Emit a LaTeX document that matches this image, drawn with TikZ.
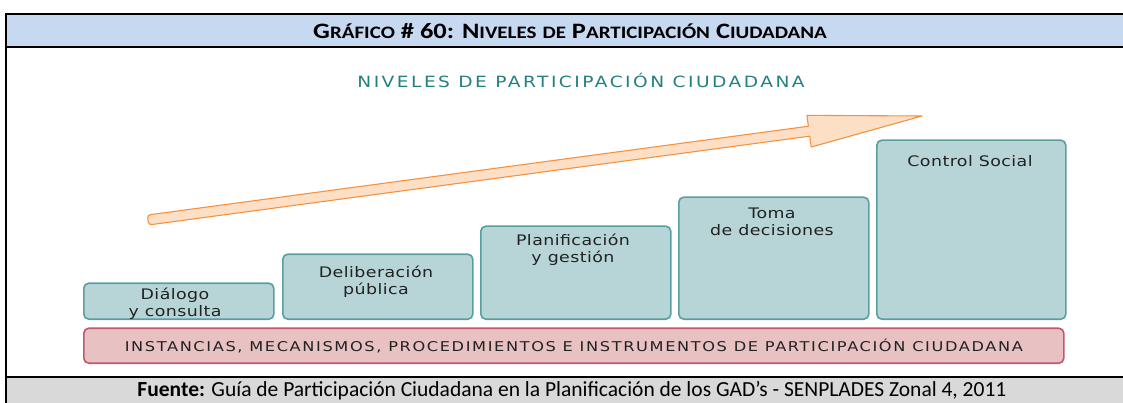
\documentclass[tikz,border=0pt]{standalone}
\usepackage{fontspec}
\setmainfont{Carlito}
\newfontfamily\hdrfont[FakeStretch=1.2]{Carlito}
\newfontfamily\diagfont[FakeStretch=1.2]{DejaVu Sans}
\usetikzlibrary{calc,positioning}
\definecolor{hdrfill}{HTML}{C6D9F1}
\definecolor{ftrfill}{HTML}{D9D9D9}
\definecolor{levelfill}{HTML}{B7D5D7}
\definecolor{levelline}{HTML}{5A9FA0}
\definecolor{leveltext}{HTML}{222222}
\definecolor{basefill}{HTML}{E8C2C2}
\definecolor{baseline}{HTML}{C4566E}
\definecolor{arrowfill}{HTML}{FDDFC6}
\definecolor{arrowline}{HTML}{F59240}
\definecolor{titleteal}{HTML}{23807F}
\newcommand\hsc[2]{{\fontsize{22}{22}\selectfont #1}{\fontsize{17.5}{17.5}\selectfont #2}}
\tikzset{
  frame/.style={draw=black, line width=1.6pt},
  level/.style={draw=levelline, line width=1.6pt, fill=levelfill, rectangle, rounded corners=5pt,
    inner sep=0pt, minimum width=190pt, anchor=south west},
  leveltxt/.style={font=\diagfont\fontsize{14.5}{17}\selectfont\addfontfeature{LetterSpace=3},
    text=leveltext, align=center, inner sep=0pt},
  basebar/.style={draw=baseline, line width=1.6pt, fill=basefill, rectangle, rounded corners=5pt,
    inner sep=0pt, minimum width=980pt, minimum height=35pt, anchor=south west},
  basetxt/.style={font=\diagfont\fontsize{13.5}{15}\selectfont\addfontfeature{LetterSpace=12},
    text=leveltext, inner sep=0pt},
  growth/.style={draw=arrowline, line width=1.1pt, fill=arrowfill, line join=round},
  small/.style={inner sep=0pt}
}

\begin{document}
\begin{tikzpicture}[x=1pt, y=-1pt]
  \useasboundingbox (0,0) rectangle (1123,403);
  % frame, header and footer
  \fill[hdrfill] (6,14) rectangle (1123,47);
  \fill[ftrfill] (6,377) rectangle (1123,403);
  \draw[frame] (1123,14) -- (6,14) -- (6,403);
  \draw[frame] (6,47) -- (1123,47);
  \draw[frame] (6,377) -- (1123,377);
  \node[small, font=\hdrfont\bfseries\fontsize{22}{22}\selectfont] (hdr) at (570,31)
    {\hsc{G}{RÁFICO} \# 60: \hsc{N}{IVELES} \hsc{}{DE} \hsc{P}{ARTICIPACIÓN} \hsc{C}{IUDADANA}};
  \node[small, font=\fontsize{21.5}{21.5}\selectfont] (ftr) at (572,391)
    {\textbf{Fuente:} Guía de Participación Ciudadana en la Planificación de los GAD’s - SENPLADES Zonal 4, 2011};

  \node[small, text=titleteal, font=\diagfont\fontsize{15.5}{17}\selectfont\addfontfeature{LetterSpace=16}] (title) at (581,80)
    {NIVELES DE PARTICIPACIÓN CIUDADANA};

  % growth arrow
  \coordinate (tail) at (148,220);
  \coordinate (tip) at (922,116);
  \coordinate (neck) at ($(tail)!667pt!(tip)$);
  \draw[growth] ($(neck)!5pt!90:(tip)$) [rounded corners=3pt] -- ($(tail)!5pt!90:(tip)$)
    -- ($(tail)!5pt!-90:(tip)$) [sharp corners] -- ($(neck)!5pt!-90:(tip)$)
    -- ($(neck)!16pt!-90:(tip)$) -- (tip) -- ($(neck)!16pt!90:(tip)$) -- cycle;

  % levels
  \node[level, minimum height=36pt] (b1) at (83,320) {};
  \node[level, minimum height=65pt] (b2) at (282,320) {};
  \node[level, minimum height=93pt] (b3) at (480,320) {};
  \node[level, minimum height=122pt] (b4) at (678,320) {};
  \node[level, minimum height=179pt, minimum width=189pt] (b5) at (876,320) {};
  \node[leveltxt] (t1) at (175,303.5) {Diálogo\\y consulta};
  \node[leveltxt] (t2) at (376,281.5) {Deliberación\\pública};
  \node[leveltxt] (t3) at (573,250) {Planificación\\y gestión};
  \node[leveltxt] (t4) at (772,221.5) {Toma\\de decisiones};
  \node[leveltxt] (t5) at (970,161) {Control Social};

  \node[basebar] (base) at (83,364) {};
  \node[basetxt] (basel) at (base.center) {INSTANCIAS, MECANISMOS, PROCEDIMIENTOS E INSTRUMENTOS DE PARTICIPACIÓN CIUDADANA};
\end{tikzpicture}
\end{document}
